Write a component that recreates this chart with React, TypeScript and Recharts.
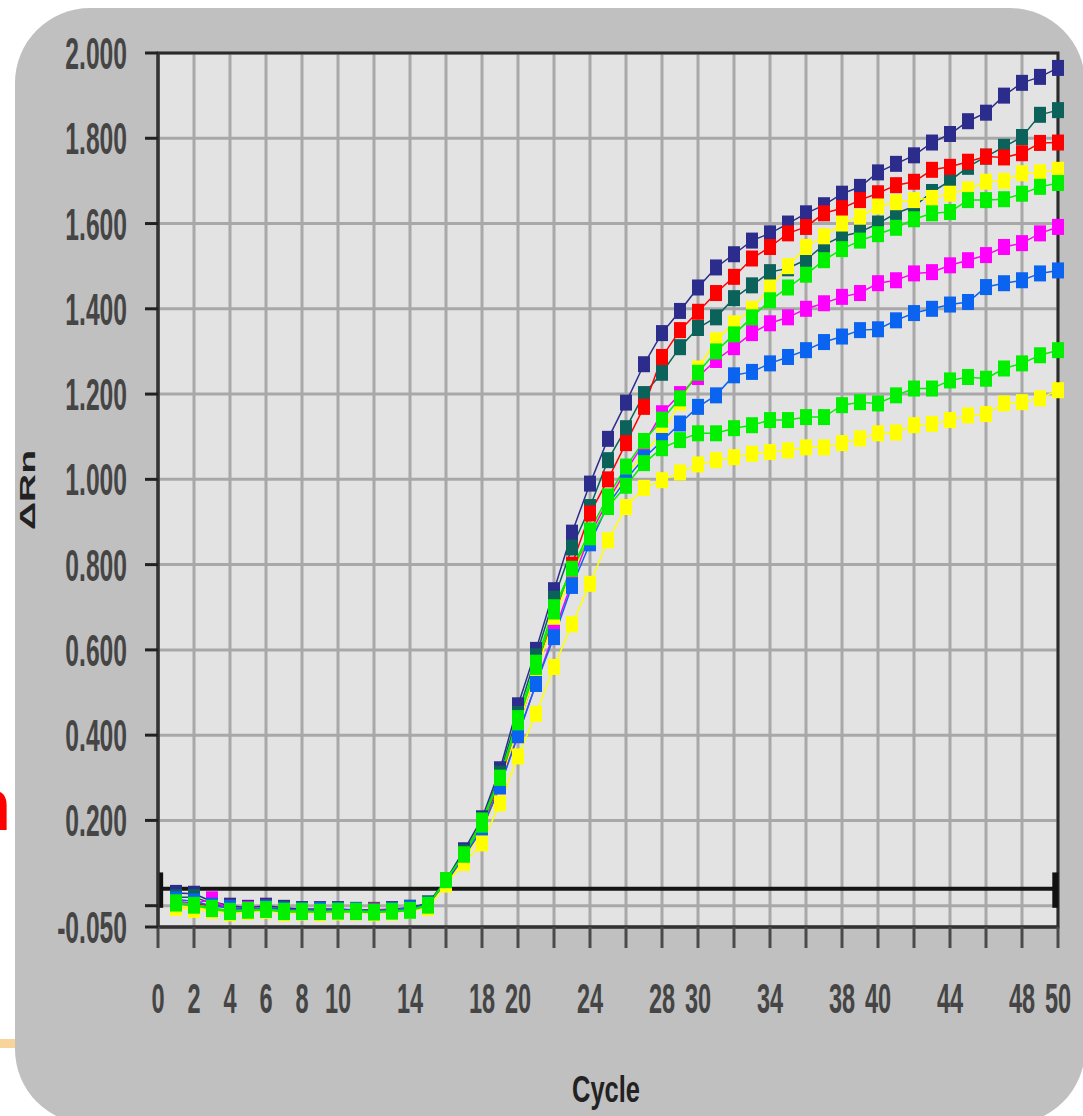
import React from 'react';
import { LineChart, Line, XAxis, YAxis, CartesianGrid, ReferenceLine, ReferenceArea } from 'recharts';

// Amplification plot: ΔRn per cycle for 9 wells
const cycles = [
  1, 2, 3, 4, 5, 6, 7, 8, 9, 10, 11, 12, 13, 14, 15, 16, 17, 18, 19, 20, 21, 22, 23, 24, 25,
  26, 27, 28, 29, 30, 31, 32, 33, 34, 35, 36, 37, 38, 39, 40, 41, 42, 43, 44, 45, 46, 47, 48, 49, 50,
];

const navy = [
  0.03, 0.028, 0.01, 0.0, -0.005, 0.0, -0.005, -0.008, -0.008, -0.008, -0.01, -0.01, -0.008, -0.005, 0.005,
  0.06, 0.13, 0.205, 0.32, 0.47, 0.6, 0.74, 0.875, 0.99, 1.095,
  1.18, 1.27, 1.343, 1.395, 1.45, 1.497, 1.528, 1.56, 1.577, 1.6,
  1.624, 1.643, 1.67, 1.686, 1.72, 1.74, 1.76, 1.79, 1.81, 1.84,
  1.86, 1.9, 1.93, 1.944, 1.965,
];
const teal = [
  0.02, 0.02, 0.005, -0.005, -0.008, -0.005, -0.008, -0.01, -0.01, -0.01, -0.01, -0.01, -0.01, -0.005, 0.005,
  0.06, 0.125, 0.195, 0.31, 0.45, 0.585, 0.72, 0.84, 0.935, 1.045,
  1.12, 1.2, 1.25, 1.31, 1.355, 1.38, 1.425, 1.455, 1.486, 1.495,
  1.515, 1.55, 1.57, 1.58, 1.6, 1.624, 1.64, 1.674, 1.7, 1.733,
  1.757, 1.78, 1.803, 1.855, 1.866,
];
const red = [
  0.01, 0.005, 0.0, -0.005, -0.01, -0.005, -0.01, -0.012, -0.01, -0.012, -0.012, -0.01, -0.01, -0.008, 0.0,
  0.055, 0.12, 0.19, 0.29, 0.42, 0.55, 0.68, 0.8, 0.92, 1.0,
  1.085, 1.17, 1.287, 1.35, 1.393, 1.437, 1.475, 1.518, 1.545, 1.577,
  1.592, 1.624, 1.636, 1.655, 1.671, 1.69, 1.698, 1.726, 1.733, 1.745,
  1.757, 1.755, 1.765, 1.789, 1.79,
];
const yellowHigh = [
  0.0, -0.005, -0.01, -0.015, -0.012, -0.01, -0.015, -0.012, -0.015, -0.015, -0.012, -0.015, -0.012, -0.01, 0.0,
  0.05, 0.11, 0.17, 0.28, 0.42, 0.55, 0.67, 0.78, 0.87, 0.95,
  1.01, 1.06, 1.11, 1.18, 1.26, 1.326, 1.366, 1.4, 1.45, 1.5,
  1.545, 1.57, 1.6, 1.616, 1.64, 1.65, 1.655, 1.66, 1.67, 1.68,
  1.698, 1.7, 1.718, 1.72, 1.726,
];
const greenHigh = [
  0.008, 0.002, -0.005, -0.012, -0.01, -0.008, -0.012, -0.012, -0.014, -0.012, -0.012, -0.014, -0.012, -0.01, 0.002,
  0.06, 0.12, 0.19, 0.3, 0.43, 0.56, 0.69, 0.79, 0.88, 0.96,
  1.03, 1.09, 1.14, 1.19, 1.25, 1.3, 1.34, 1.38, 1.42, 1.45,
  1.48, 1.514, 1.54, 1.56, 1.575, 1.59, 1.61, 1.624, 1.627, 1.655,
  1.655, 1.657, 1.67, 1.686, 1.695,
];
const magenta = [
  0.01, 0.005, 0.015, -0.01, -0.008, -0.005, -0.01, -0.01, -0.012, -0.01, -0.012, -0.012, -0.01, -0.008, 0.0,
  0.055, 0.115, 0.18, 0.28, 0.4, 0.52, 0.64, 0.76, 0.87, 0.95,
  1.02, 1.085, 1.155, 1.2, 1.24, 1.28, 1.31, 1.343, 1.366, 1.38,
  1.4, 1.413, 1.428, 1.437, 1.46, 1.467, 1.483, 1.486, 1.502, 1.514,
  1.526, 1.545, 1.554, 1.577, 1.592,
];
const blue = [
  0.015, 0.01, 0.0, -0.005, -0.01, -0.005, -0.01, -0.01, -0.01, -0.01, -0.01, -0.012, -0.01, -0.006, 0.003,
  0.055, 0.115, 0.18, 0.28, 0.4, 0.52, 0.63, 0.75, 0.85, 0.94,
  1.0, 1.05, 1.09, 1.131, 1.17, 1.197, 1.244, 1.252, 1.272, 1.287,
  1.303, 1.322, 1.335, 1.35, 1.352, 1.373, 1.39, 1.4, 1.41, 1.416,
  1.451, 1.46, 1.467, 1.483, 1.49,
];
const greenLow = [
  0.005, 0.0, -0.008, -0.015, -0.012, -0.01, -0.015, -0.015, -0.015, -0.014, -0.015, -0.016, -0.014, -0.012, 0.0,
  0.06, 0.12, 0.2, 0.3, 0.44, 0.57, 0.7, 0.79, 0.864, 0.935,
  0.985, 1.038, 1.073, 1.092, 1.108, 1.108, 1.12, 1.127, 1.139, 1.139,
  1.146, 1.146, 1.174, 1.181, 1.178, 1.197, 1.213, 1.213, 1.232, 1.24,
  1.236, 1.26, 1.272, 1.291, 1.303,
];
const yellowLow = [
  -0.005, -0.01, -0.012, -0.018, -0.015, -0.012, -0.018, -0.016, -0.018, -0.016, -0.016, -0.018, -0.016, -0.012, -0.005,
  0.05, 0.1, 0.146, 0.24, 0.35, 0.45, 0.56, 0.66, 0.755, 0.857,
  0.935, 0.98, 0.998, 1.016, 1.035, 1.045, 1.052, 1.06, 1.064, 1.068,
  1.075, 1.075, 1.085, 1.096, 1.108, 1.11, 1.127, 1.13, 1.139, 1.15,
  1.153, 1.178, 1.181, 1.19, 1.209,
];

const xTicks = [0, 2, 4, 6, 8, 10, 12, 14, 16, 18, 20, 22, 24, 26, 28, 30, 32, 34, 36, 38, 40, 42, 44, 46, 48, 50];
const xLabels = [0, 2, 4, 6, 8, 10, 14, 18, 20, 24, 28, 30, 34, 38, 40, 44, 48, 50];
const yTicks = [-0.05, 0, 0.2, 0.4, 0.6, 0.8, 1.0, 1.2, 1.4, 1.6, 1.8, 2.0];
const threshold = 0.04;

const series = [
  { key: 'navy', values: navy, color: '#2b2c8c' },
  { key: 'teal', values: teal, color: '#0a625a' },
  { key: 'red', values: red, color: '#ff0000' },
  { key: 'yellowHigh', values: yellowHigh, color: '#ffff00' },
  { key: 'magenta', values: magenta, color: '#ff00ff' },
  { key: 'blue', values: blue, color: '#0a64f0' },
  { key: 'yellowLow', values: yellowLow, color: '#ffff00' },
  { key: 'greenHigh', values: greenHigh, color: '#00f000' },
  { key: 'greenLow', values: greenLow, color: '#00f000' },
];

const data = cycles.map((c, i) => {
  const row: any = { cycle: c };
  series.forEach((s) => { row[s.key] = s.values[i]; });
  return row;
});

const tickFont = '"Liberation Sans", Arial, sans-serif';

const YTick = ({ x, y, payload }: any) => {
  const label = payload.value === 0 ? '' : payload.value.toFixed(3);
  return (
    <g transform={`translate(${x},${y})`}>
      <text transform="scale(0.56,1)" textAnchor="end" dy={16} fontSize={44} fontWeight="bold" fill="#454545" fontFamily={tickFont}>
        {label}
      </text>
    </g>
  );
};

const XTick = ({ x, y, payload }: any) => {
  const label = xLabels.includes(payload.value) ? String(payload.value) : '';
  return (
    <g transform={`translate(${x},${y})`}>
      <text transform="scale(0.56,1)" textAnchor="middle" dy={57} fontSize={42} fontWeight="bold" fill="#454545" fontFamily={tickFont}>
        {label}
      </text>
    </g>
  );
};

const squareDot = (color: string) => (p: any) => (
  <rect key={`${p.dataKey}-${p.index}`} x={p.cx - 6} y={p.cy - 8} width={12} height={16} fill={color} />
);

export default function App() {
  return (
    <div style={{ position: 'absolute', left: 0, top: 0, width: 1083, height: 1116, overflow: 'hidden', background: '#fff' }}>
      <svg width={60} height={1116} style={{ position: 'absolute', left: 0, top: 0 }}>
        <text x={-34} y={830} fontSize={74} fontWeight="bold" fill="#ff0000" fontFamily={tickFont}>n</text>
        <rect x={0} y={1039} width={15} height={9} fill="#f8d49a" />
      </svg>
      <div style={{ position: 'absolute', left: 15, top: 8, width: 1070, height: 1116, borderRadius: 75, background: '#c0c0c0' }} />
      <div style={{ position: 'absolute', left: 0, top: 0 }}>
        <LineChart
          width={1083}
          height={1116}
          data={data}
          margin={{ top: 53, right: 25, bottom: 0, left: 0 }}
          style={{ fontFamily: tickFont }}
        >
          <CartesianGrid fill="#e3e3e3" stroke="#a8a8a8" strokeWidth={3} />
          <XAxis
            dataKey="cycle"
            type="number"
            domain={[0, 50]}
            ticks={xTicks}
            interval={0}
            height={189}
            tickSize={21}
            tickMargin={8}
            tick={<XTick />}
            tickLine={{ stroke: '#4a4a4a', strokeWidth: 3 }}
            axisLine={{ stroke: '#333', strokeWidth: 3 }}
            label={{
              content: () => (
                <text x={606} y={1102} textAnchor="middle" fontSize={36} fontWeight="bold" fill="#222"
                  textLength={68} lengthAdjust="spacingAndGlyphs" fontFamily={tickFont}>
                  Cycle
                </text>
              ),
            }}
          />
          <YAxis
            type="number"
            domain={[-0.05, 2]}
            ticks={yTicks}
            interval={0}
            width={158}
            tickSize={13}
            tickMargin={18}
            tick={<YTick />}
            tickLine={{ stroke: '#222', strokeWidth: 3 }}
            axisLine={{ stroke: '#333', strokeWidth: 3 }}
            label={{
              content: () => (
                <text x={35} y={490} transform="rotate(-90 35 490)" textAnchor="middle" fontSize={22} fontWeight="bold"
                  fill="#222" textLength={80} lengthAdjust="spacingAndGlyphs" fontFamily={tickFont}>
                  ΔRn
                </text>
              ),
            }}
          />
          <ReferenceArea x1={0} x2={50} y1={-0.05} y2={2} fill="none" stroke="#2a2a2a" strokeWidth={3} />
          <ReferenceLine y={threshold} stroke="#151515" strokeWidth={4} />
          <ReferenceLine segment={[{ x: 0.12, y: -0.005 }, { x: 0.12, y: 0.078 }]} stroke="#111" strokeWidth={6} />
          <ReferenceLine segment={[{ x: 49.85, y: -0.005 }, { x: 49.85, y: 0.078 }]} stroke="#111" strokeWidth={6} />
          {series.map((s) => (
            <Line
              key={s.key}
              dataKey={s.key}
              type="linear"
              stroke={s.color}
              strokeWidth={1.5}
              dot={squareDot(s.color)}
              activeDot={false}
              isAnimationActive={false}
            />
          ))}
        </LineChart>
      </div>
    </div>
  );
}
